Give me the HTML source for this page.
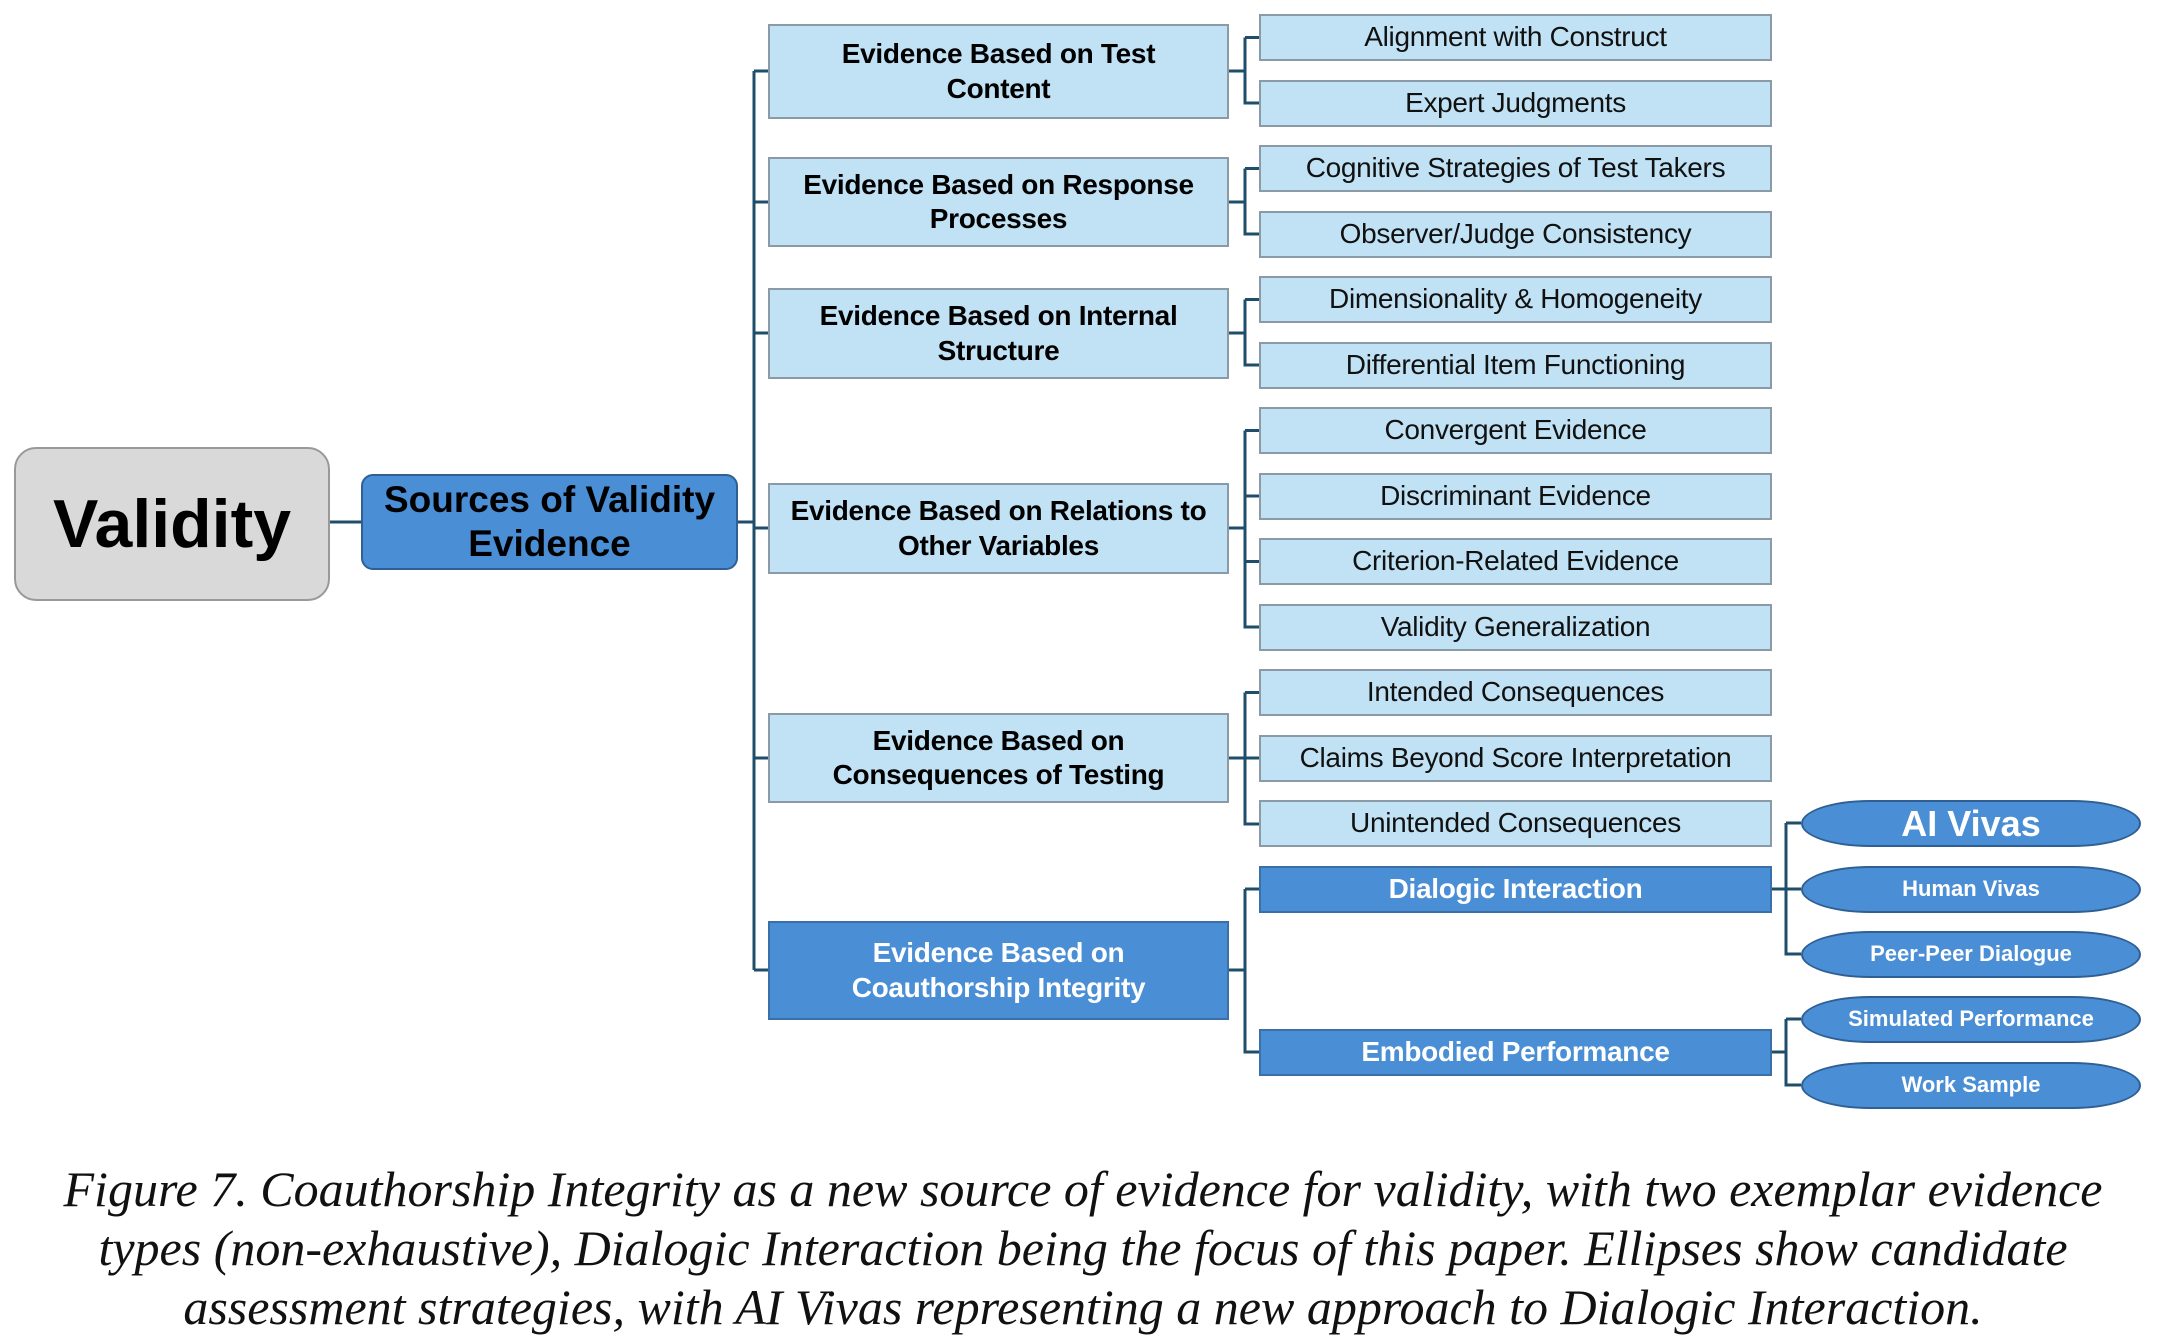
<!DOCTYPE html>
<html><head><meta charset="utf-8"><style>
body{margin:0;width:2166px;height:1330px;background:#fff;position:relative;overflow:hidden;font-family:"Liberation Sans",sans-serif}
.b{position:absolute;box-sizing:border-box;display:flex;align-items:center;justify-content:center;text-align:center;line-height:1.22}
.l1{left:768px;width:461px;background:#c0e2f4;border:2px solid #8a9aa6;font-weight:bold;font-size:28px;color:#000;letter-spacing:-0.3px}
.l2{left:1259px;width:513px;height:47px;background:#c0e2f4;border:2px solid #8a9aa6;font-size:28px;color:#111;letter-spacing:-0.3px}
.d{background:#4a8ed6;color:#fff;border:2px solid #3a6fa8}
.e{left:1801px;width:340px;height:47px;border-radius:70px/24px;background:#4a8ed6;border:2px solid #2f5f93;color:#fff;font-weight:bold;font-size:22px}
.cap{position:absolute;left:0;width:2166px;text-align:center;font-family:"Liberation Serif",serif;font-style:italic;font-size:50px;color:#111;white-space:nowrap}
</style></head><body>
<svg style="position:absolute;left:0;top:0" width="2166" height="1330"><g stroke="#1f4e6b" stroke-width="3" fill="none">
<path d="M330 522H361M738 522H754M754 71V970"/>
<path d="M754 71H768M754 202H768M754 333H768M754 528H768M754 758H768M754 970H768"/>
<path d="M1229 71H1245M1245 37.5V103H1259M1245 37.5H1259"/>
<path d="M1229 202H1245M1245 168.5V234H1259M1245 168.5H1259"/>
<path d="M1229 333H1245M1245 299.5V365H1259M1245 299.5H1259"/>
<path d="M1229 528H1245M1245 430.5V627H1259M1245 430.5H1259M1245 496H1259M1245 561.5H1259"/>
<path d="M1229 758H1245M1245 692.5V824H1259M1245 692.5H1259M1245 758H1259"/>
<path d="M1229 970H1245M1245 889V1052H1259M1245 889H1259"/>
<path d="M1772 889H1801M1786 823V954H1801M1786 823H1801"/>
<path d="M1772 1052H1786M1786 1019V1085H1801M1786 1019H1801"/>
</g></svg>
<div class="b" style="left:14px;top:447px;width:316px;height:154px;background:#d9d9d9;border:2px solid #999;border-radius:22px;font-weight:bold;font-size:68px">Validity</div>
<div class="b" style="left:361px;top:474px;width:377px;height:96px;background:#4a8ed6;border:2px solid #2f5f93;border-radius:12px;font-weight:bold;font-size:37px;line-height:1.2">Sources of Validity<br>Evidence</div>
<div class="b l1" style="top:24px;height:95px">Evidence Based on Test<br>Content</div>
<div class="b l1" style="top:157px;height:90px">Evidence Based on Response<br>Processes</div>
<div class="b l1" style="top:288px;height:91px">Evidence Based on Internal<br>Structure</div>
<div class="b l1" style="top:483px;height:91px">Evidence Based on Relations to<br>Other Variables</div>
<div class="b l1" style="top:713px;height:90px">Evidence Based on<br>Consequences of Testing</div>
<div class="b l1 d" style="top:921px;height:99px">Evidence Based on<br>Coauthorship Integrity</div>
<div class="b l2" style="top:14px">Alignment with Construct</div>
<div class="b l2" style="top:79.5px">Expert Judgments</div>
<div class="b l2" style="top:145px">Cognitive Strategies of Test Takers</div>
<div class="b l2" style="top:210.5px">Observer/Judge Consistency</div>
<div class="b l2" style="top:276px">Dimensionality &amp; Homogeneity</div>
<div class="b l2" style="top:341.5px">Differential Item Functioning</div>
<div class="b l2" style="top:407px">Convergent Evidence</div>
<div class="b l2" style="top:472.5px">Discriminant Evidence</div>
<div class="b l2" style="top:538px">Criterion-Related Evidence</div>
<div class="b l2" style="top:603.5px">Validity Generalization</div>
<div class="b l2" style="top:669px">Intended Consequences</div>
<div class="b l2" style="top:734.5px">Claims Beyond Score Interpretation</div>
<div class="b l2" style="top:800px">Unintended Consequences</div>
<div class="b l2 d" style="top:866px;font-weight:bold">Dialogic Interaction</div>
<div class="b l2 d" style="top:1029px;font-weight:bold">Embodied Performance</div>
<div class="b e" style="top:800px;font-size:36px">AI Vivas</div>
<div class="b e" style="top:866px">Human Vivas</div>
<div class="b e" style="top:931px">Peer-Peer Dialogue</div>
<div class="b e" style="top:996px">Simulated Performance</div>
<div class="b e" style="top:1062px">Work Sample</div>
<div class="cap" style="top:1160px">Figure 7. Coauthorship Integrity as a new source of evidence for validity, with two exemplar evidence</div>
<div class="cap" style="top:1219px">types (non-exhaustive), Dialogic Interaction being the focus of this paper. Ellipses show candidate</div>
<div class="cap" style="top:1278px">assessment strategies, with AI Vivas representing a new approach to Dialogic Interaction.</div>
</body></html>
